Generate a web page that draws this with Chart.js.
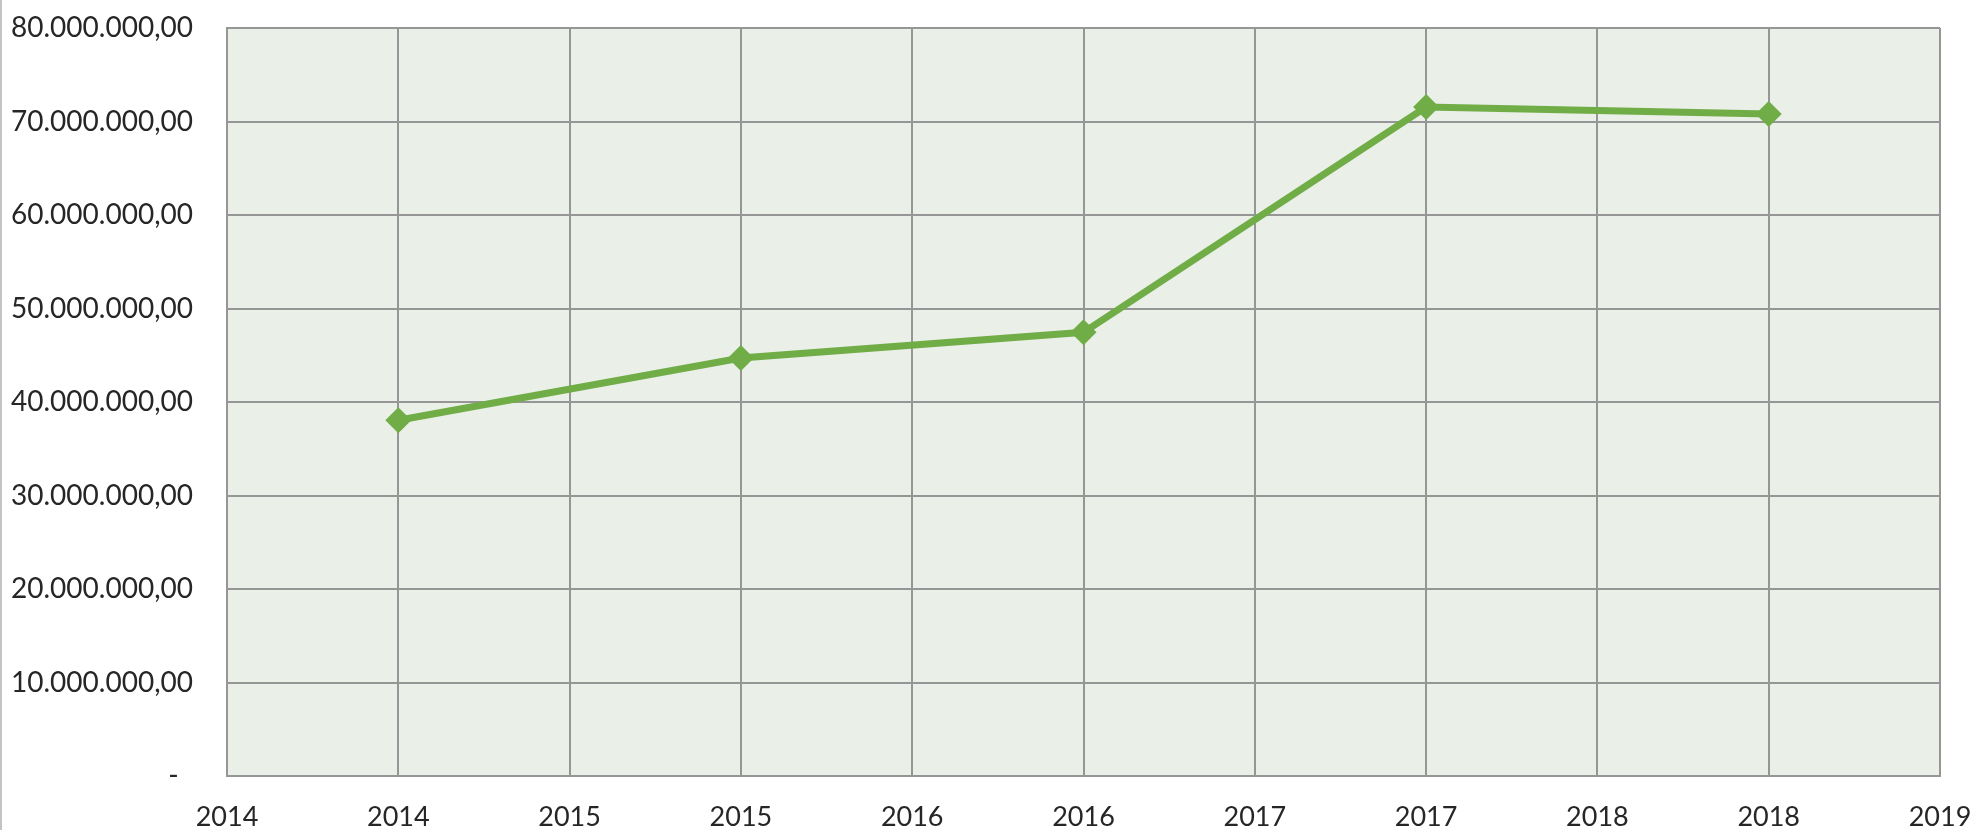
<!DOCTYPE html>
<html>
<head>
<meta charset="utf-8">
<script src="https://cdn.jsdelivr.net/npm/chart.js@4"></script>
<style>
  html, body { margin: 0; padding: 0; background: #fff; }
  #wrap { width: 1980px; height: 830px; position: relative; }
</style>
</head>
<body>
<div id="wrap"><canvas id="myChart" width="1980" height="830"></canvas></div>
<script>
// data
const years = [2014, 2015, 2016, 2017, 2018];
const amounts = [38050000, 44700000, 47450000, 71550000, 70800000];
const yTicks = [0, 10000000, 20000000, 30000000, 40000000, 50000000, 60000000, 70000000, 80000000];
const xTicks = [2013.5, 2014, 2014.5, 2015, 2015.5, 2016, 2016.5, 2017, 2017.5, 2018, 2018.5];

function fmtMoney(v) {
  if (v === 0) return '-  ';
  const s = Math.round(v).toString().replace(/\B(?=(\d{3})+(?!\d))/g, '.');
  return s + ',00';
}

const bgPlugin = {
  id: 'bgPlugin',
  beforeDraw(chart) {
    const { ctx, chartArea } = chart;
    ctx.save();
    ctx.fillStyle = '#eaefe8';
    ctx.fillRect(chartArea.left, chartArea.top, chartArea.right - chartArea.left, chartArea.bottom - chartArea.top);
    // outer frame line on the left
    ctx.strokeStyle = '#c4c4c4';
    ctx.lineWidth = 2;
    ctx.beginPath();
    ctx.moveTo(1, 0);
    ctx.lineTo(1, chart.height);
    ctx.stroke();
    ctx.restore();
  }
};

const ctx = document.getElementById('myChart').getContext('2d');
new Chart(ctx, {
  type: 'line',
  data: {
    datasets: [{
      data: years.map((y, i) => ({ x: y, y: amounts[i] })),
      borderColor: '#70ad47',
      backgroundColor: '#70ad47',
      borderWidth: 7,
      pointStyle: 'rectRot',
      pointRadius: 13,
      pointBorderWidth: 0,
      tension: 0
    }]
  },
  options: {
    responsive: false,
    animation: false,
    layout: { padding: { top: 28, right: 40, left: 0, bottom: 0 } },
    plugins: { legend: { display: false }, tooltip: { enabled: false } },
    scales: {
      x: {
        type: 'linear',
        min: 2013.5,
        max: 2018.5,
        afterBuildTicks: s => { s.ticks = xTicks.map(v => ({ value: v })); },
        afterFit: s => { s.height = 54; },
        ticks: {
          callback: v => String(Math.round(v)),
          font: { family: 'Lato', size: 27 },
          color: '#262626',
          padding: 0,
          maxRotation: 0,
          autoSkip: false
        },
        grid: { color: '#969696', lineWidth: 2, drawTicks: true, tickLength: 25, tickColor: 'rgba(0,0,0,0)' },
        border: { color: '#969696', width: 2 }
      },
      y: {
        min: 0,
        max: 80000000,
        afterBuildTicks: s => { s.ticks = yTicks.map(v => ({ value: v })); },
        afterFit: s => { s.width = 227; },
        ticks: {
          callback: v => fmtMoney(v),
          font: { family: 'Lato', size: 28 },
          color: '#262626',
          padding: 0
        },
        grid: { color: '#969696', lineWidth: 2, drawTicks: true, tickLength: 34, tickColor: 'rgba(0,0,0,0)' },
        border: { color: '#969696', width: 2 }
      }
    }
  },
  plugins: [bgPlugin]
});
</script>
</body>
</html>
